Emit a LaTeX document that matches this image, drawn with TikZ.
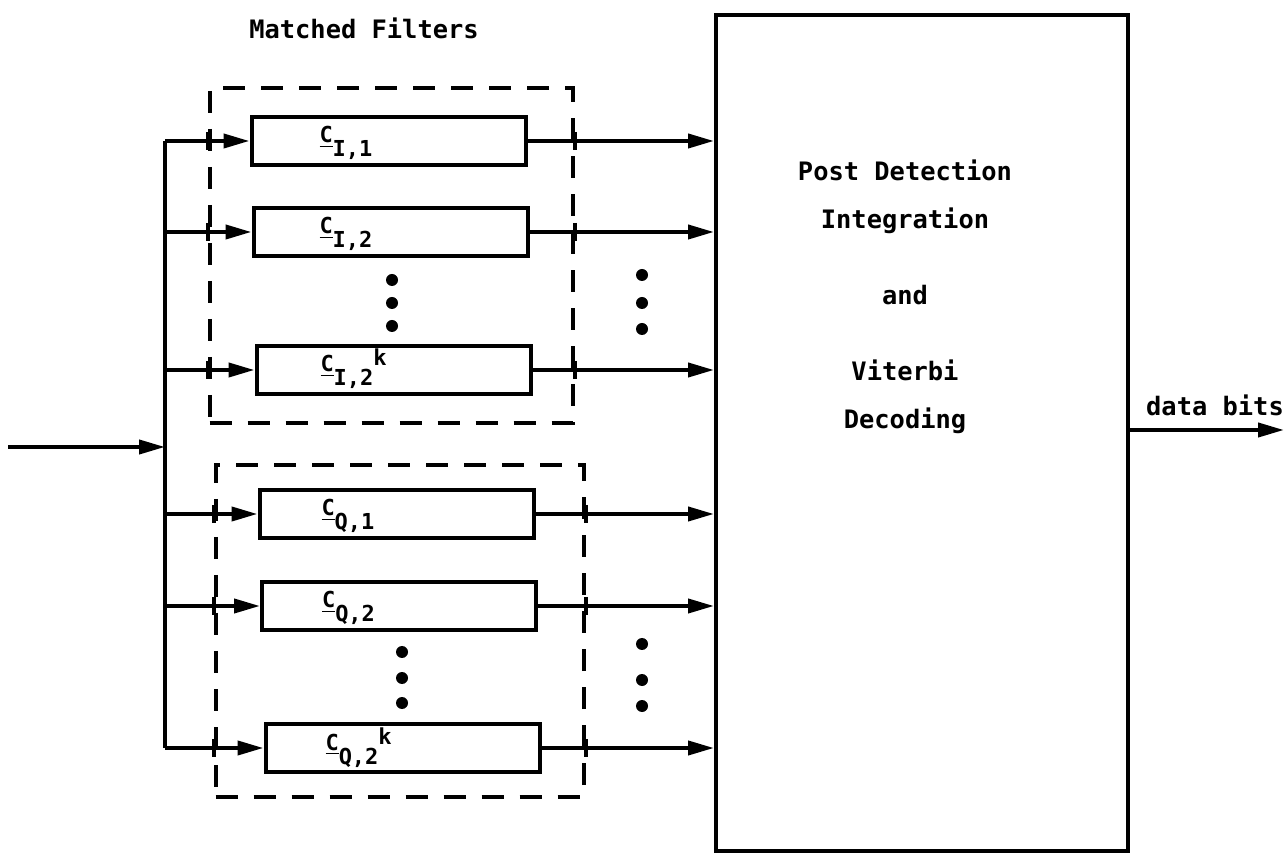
\documentclass[tikz,border=0pt]{standalone}
\usepackage{fontspec}
\setmonofont{DejaVu Sans Mono}
\usepackage{tikz}
\usetikzlibrary{positioning,arrows.meta,fit}

\newcommand{\cfilt}[2]{\underline{C}\raisebox{-7pt}{#1,#2}}

\begin{document}
\begin{tikzpicture}[
    x=0.5pt, y=-0.5pt,
    font=\ttfamily\bfseries\fontsize{12.7}{15}\selectfont,
    line width=2pt,
    filt/.style={draw, minimum width=137pt, minimum height=24pt, inner sep=0pt},
    lbl/.style={font=\ttfamily\bfseries\fontsize{11}{13}\selectfont, inner sep=0pt, anchor=base west},
    group/.style={draw, dash pattern=on 11pt off 8pt, inner xsep=20pt, inner ysep=13.5pt},
    dec/.style={draw, minimum width=206pt, minimum height=418pt},
    arrow/.style={-{Triangle[length=13pt,width=7pt]}},
    tick/.style={line cap=butt},
  ]
    \useasboundingbox (0,0) rectangle (1284,854);

    % matched filters, I and Q branches
    \node[filt] (fI1) at (388.5,141) {};
    \node[filt] (fI2) at (390.5,232) {};
    \node[filt] (fIk) at (393.5,370) {};
    \node[filt] (fQ1) at (396.5,514) {};
    \node[filt] (fQ2) at (399,606) {};
    \node[filt] (fQk) at (402.5,748) {};

    \node[lbl] at ([xshift=34pt,yshift=-1pt]fI1.west) {\cfilt{I}{1}};
    \node[lbl] at ([xshift=33pt,yshift=-1pt]fI2.west) {\cfilt{I}{2}};
    \node[lbl] at ([xshift=32pt,yshift=-1pt]fIk.west) {\cfilt{I}{2\raisebox{10pt}{k}}};
    \node[lbl] at ([xshift=31pt,yshift=-1pt]fQ1.west) {\cfilt{Q}{1}};
    \node[lbl] at ([xshift=30pt,yshift=-1pt]fQ2.west) {\cfilt{Q}{2}};
    \node[lbl] at ([xshift=30pt,yshift=-1pt]fQk.west) {\cfilt{Q}{2\raisebox{10pt}{k}}};

    \node[group, fit=(fI1) (fIk)] (grpI) {};
    \node[group, fit=(fQ1) (fQk), inner xsep=21pt, inner ysep=11.5pt] (grpQ) {};
    \node (mflbl) at (364,28) {Matched Filters};

    % decoder
    \node[dec] (dec) at (922,433) {};
    \node[align=center] (dectext) at (905,297)
      {Post Detection\\[9pt]Integration\\[23pt]and\\[23pt]Viterbi\\[9pt]Decoding};

    % input and bus
    \coordinate (in) at (8,447);
    \coordinate (bus) at (165,447);
    \draw[arrow] (in) -- (bus);
    \draw (bus |- fI1.west) -- (bus |- fQk.west);
    \foreach \f in {fI1,fI2,fIk,fQ1,fQ2,fQk}
      \draw[arrow] (bus |- \f.west) -- (\f.west);

    % outputs to decoder
    \foreach \f in {fI1,fI2,fIk,fQ1,fQ2,fQk}
      \draw[arrow] (\f.east) -- (\f.east -| dec.west);

    % ticks where the dashed frames cross the lines
    \foreach \f in {fI1,fI2,fIk} {
      \draw[tick] (grpI.west |- \f.west) ++(0,-9) -- ++(0,18);
      \draw[tick] (grpI.east |- \f.east) ++(0,-9) -- ++(0,18);
    }
    \foreach \f in {fQ1,fQ2,fQk} {
      \draw[tick] (grpQ.west |- \f.west) ++(0,-9) -- ++(0,18);
      \draw[tick] (grpQ.east |- \f.east) ++(0,-9) -- ++(0,18);
    }

    % dots
    \foreach \y in {280,303,326} \fill (392,\y) circle (3pt);
    \foreach \y in {652,678,703} \fill (402,\y) circle (3pt);
    \foreach \y in {275,303,329} \fill (642,\y) circle (3pt);
    \foreach \y in {644,680,706} \fill (642,\y) circle (3pt);

    % output
    \coordinate (out) at (1284,430);
    \draw[arrow] (dec.east |- out) -- (out);
    \node (dbits) at (1215,405) {data bits};
  \end{tikzpicture}
\end{document}
